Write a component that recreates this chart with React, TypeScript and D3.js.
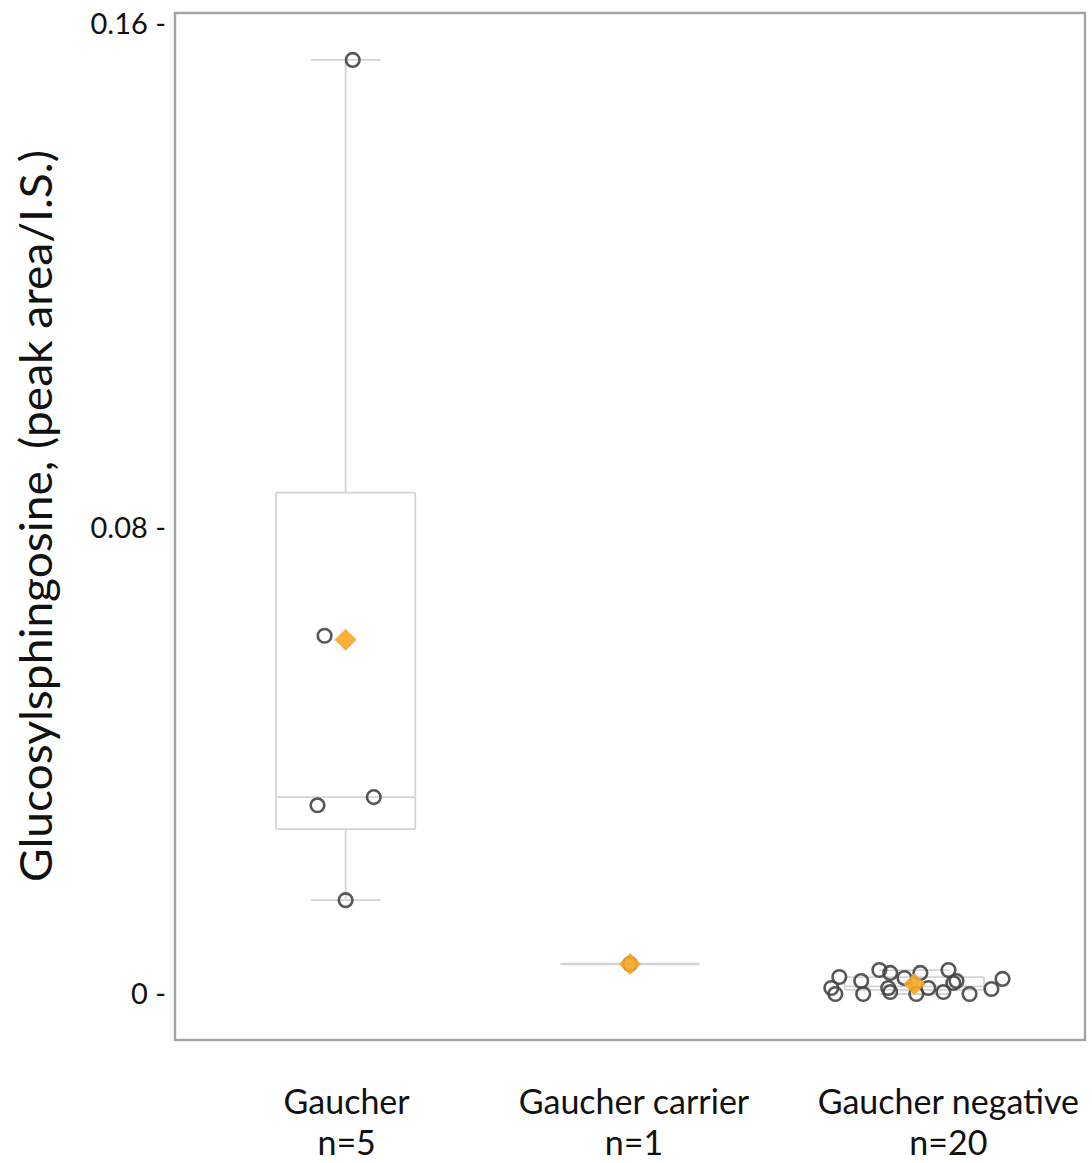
import React from "react";
import * as d3 from "d3";

const categories = ["Gaucher", "Gaucher carrier", "Gaucher negative"];
const counts = [5, 1, 20];
const yTicks = [0, 0.08, 0.16];

// box stats: [lowerWhisker, q1, median, q3, upperWhisker]
const gaucherBox = [0.0161, 0.0283, 0.0338, 0.0856, 0.1543];
const carrierBox = [0.00515, 0.00515, 0.00515, 0.00515, 0.00515];
const negativeBox = [0.0, 0.0007, 0.0013, 0.0029, 0.0041];
const meanValues = [0.0608, 0.00515, 0.0017];

const gaucherValues = [0.1543, 0.0615, 0.0338, 0.0324, 0.0161];
const gaucherJitter = [0.025, -0.074, 0.099, -0.099, 0.0];
const carrierValues = [0.00515];
const carrierJitter = [0.0];
const negativeValues = [
  0.00292, 0.00103, 0.0, 0.00223, 0.0, 0.00412, 0.00361, 0.00103, 0.00034, 0.00275,
  0.00361, 0.0, 0.00103, 0.00034, 0.00412, 0.00189, 0.00223, 0.0, 0.00086, 0.00258,
];
const negativeJitter = [
  -0.264, -0.292, -0.278, -0.187, -0.18, -0.123, -0.085, -0.092, -0.085, -0.035,
  0.021, 0.007, 0.049, 0.102, 0.12, 0.137, 0.148, 0.194, 0.271, 0.31,
];

const boxes = [gaucherBox, carrierBox, negativeBox];
const values = [gaucherValues, carrierValues, negativeValues];
const jitters = [gaucherJitter, carrierJitter, negativeJitter];

const W = 1092;
const H = 1163;
const frame = { left: 175, top: 13, right: 1085, bottom: 1040 };
// category labels in the reference sit slightly right of the groups
const labelShift = [1, 4, 34];

export default function App() {
  const x = d3
    .scalePoint<string>()
    .domain(categories)
    .range([frame.left, frame.right])
    .padding(0.6);
  const step = x.step();
  // axis as drawn in the reference (not evenly spaced)
  const y = d3.scaleLinear().domain([0, 0.08, 0.16]).range([994, 528, 24]);

  const boxHalf = step * 0.245;
  const capHalf = step * 0.123;
  const boxStroke = "#d4d4d4";
  const font = "Lato, 'Open Sans', sans-serif";
  const orange = "#f8a722";

  const diamond = (cx: number, cy: number, r: number) =>
    `M${cx},${cy - r}L${cx + r},${cy}L${cx},${cy + r}L${cx - r},${cy}Z`;

  return (
    <svg
      width={W}
      height={H}
      style={{ display: "block", background: "#fff", position: "absolute", left: 0, top: 0 }}
    >
      <rect x={0} y={0} width={W} height={H} fill="#fff" />
      {/* frame */}
      <rect
        x={frame.left}
        y={frame.top}
        width={frame.right - frame.left}
        height={frame.bottom - frame.top}
        fill="none"
        stroke="#a3a3a3"
        strokeWidth={2.4}
      />
      {/* y ticks */}
      {yTicks.map((t) => (
        <text
          key={t}
          x={166}
          y={y(t)}
          dy="0.36em"
          textAnchor="end"
          fontFamily={font}
          fontSize={29}
          fill="#111"
        >
          {`${t === 0 ? "0" : d3.format(".2f")(t)} -`}
        </text>
      ))}
      {/* y label */}
      <text
        transform={`translate(52, ${(150 + 882) / 2}) rotate(-90)`}
        textAnchor="middle"
        fontFamily={font}
        fontSize={45}
        fill="#111"
        textLength={732}
        lengthAdjust="spacingAndGlyphs"
      >
        Glucosylsphingosine, (peak area/I.S.)
      </text>
      {/* boxes */}
      {categories.map((c, i) => {
        const cx = x(c) as number;
        const [lw, q1, med, q3, uw] = boxes[i];
        return (
          <g key={c} stroke={boxStroke} strokeWidth={1.8} fill="none">
            {q3 > q1 && (
              <>
                <line x1={cx} x2={cx} y1={y(uw)} y2={y(q3)} />
                <line x1={cx} x2={cx} y1={y(q1)} y2={y(lw)} />
                <line x1={cx - capHalf} x2={cx + capHalf} y1={y(uw)} y2={y(uw)} />
                <line x1={cx - capHalf} x2={cx + capHalf} y1={y(lw)} y2={y(lw)} />
                <rect
                  x={cx - boxHalf}
                  y={y(q3)}
                  width={boxHalf * 2}
                  height={y(q1) - y(q3)}
                  rx={1.5}
                />
              </>
            )}
            <line
              x1={cx - boxHalf}
              x2={cx + boxHalf}
              y1={y(med)}
              y2={y(med)}
              strokeWidth={q3 > q1 ? 1.8 : 2.4}
            />
          </g>
        );
      })}
      {/* points */}
      {categories.map((c, i) => {
        const cx = x(c) as number;
        return (
          <g key={c}>
            {values[i].map((v, j) => (
              <circle
                key={j}
                cx={cx + jitters[i][j] * step}
                cy={y(v)}
                r={6.8}
                fill="none"
                stroke="#454545"
                strokeOpacity={0.9}
                strokeWidth={2.6}
              />
            ))}
          </g>
        );
      })}
      {/* means */}
      {categories.map((c, i) => (
        <path
          key={c}
          d={diamond(x(c) as number, y(meanValues[i]), 11)}
          fill={orange}
          fillOpacity={0.9}
        />
      ))}
      {/* x labels */}
      {categories.map((c, i) => (
        <g key={c}>
          <text
            x={(x(c) as number) + labelShift[i]}
            y={1114}
            textAnchor="middle"
            fontFamily={font}
            fontSize={34}
            fill="#111"
          >
            {c}
          </text>
          <text
            x={(x(c) as number) + labelShift[i]}
            y={1155}
            textAnchor="middle"
            fontFamily={font}
            fontSize={34}
            fill="#111"
          >
            {`n=${counts[i]}`}
          </text>
        </g>
      ))}
    </svg>
  );
}
